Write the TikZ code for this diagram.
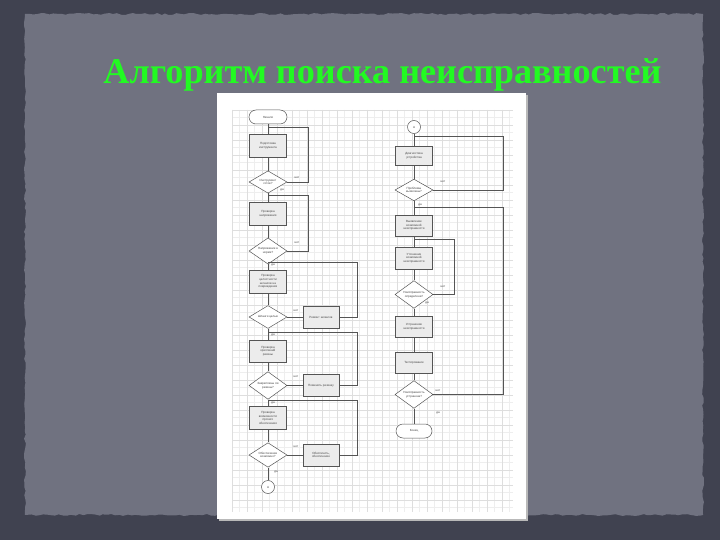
\documentclass[tikz,border=0pt]{standalone}
\usepackage{fontspec}
\setmainfont{Liberation Serif}
\newfontfamily\fcsans{Liberation Sans}
\usetikzlibrary{shapes.geometric,decorations.pathmorphing}
\definecolor{outerbg}{RGB}{64,66,80}
\definecolor{innerbg}{RGB}{112,114,128}
\definecolor{titlegreen}{RGB}{34,250,34}
\definecolor{gridminor}{RGB}{238,238,238}
\definecolor{gridmajor}{RGB}{222,222,222}
\definecolor{fcline}{RGB}{85,85,85}
\definecolor{fcfill}{RGB}{236,236,236}
\definecolor{fctext}{RGB}{70,70,70}
\tikzset{
  fcbase/.style={draw=fcline, line width=0.5pt, text=fctext, align=center, inner sep=0.5pt,
    font=\fcsans\fontsize{3}{3.7}\selectfont},
  stepbox/.style={fcbase, rectangle, fill=fcfill, minimum width=37pt, minimum height=22pt, text width=34pt},
  decision/.style={fcbase, diamond, fill=white, minimum width=38pt, minimum height=20pt, inner sep=0pt},
  terminal/.style={fcbase, rectangle, rounded corners=7pt, fill=white, minimum width=38pt, minimum height=14pt},
  joint/.style={fcbase, circle, fill=white, minimum size=13pt},
  flow/.style={draw=fcline, line width=0.5pt},
  lbl/.style={text=fctext, font=\fcsans\fontsize{3}{3.6}\selectfont, inner sep=0pt}
}
\begin{document}
\begin{tikzpicture}[x=1pt,y=-1pt]
\useasboundingbox (0,0) rectangle (720,540);
% background
\fill[outerbg] (0,0) rectangle (720,540);
\pgfmathsetseed{7}
\fill[innerbg, decorate, decoration={random steps,segment length=4pt,amplitude=1pt}]
  (25,14) -- (703,14) -- (703,515) -- (25,515) -- cycle;
% title
\node[anchor=base, text=titlegreen, font=\bfseries\fontsize{36.2}{40}\selectfont, inner sep=0pt]
  (title) at (382.5,84) {Алгоритм поиска неисправностей};
% panel
\fill[gray!55] (219,95) rectangle (528,521);
\fill[white] (217,93) rectangle (526,519);
\begin{scope}
\clip (232,110) rectangle (513,512);
\foreach \i in {0,...,38} {
  \draw[gridminor, line width=0.4pt] (232+7.5*\i,110) -- (232+7.5*\i,512);
}
\foreach \i in {0,...,54} {
  \draw[gridminor, line width=0.4pt] (232,110+7.5*\i) -- (513,110+7.5*\i);
}
\foreach \i in {0,...,19} {
  \draw[gridmajor, line width=0.5pt] (232+15*\i,110) -- (232+15*\i,512);
}
\foreach \i in {0,...,27} {
  \draw[gridmajor, line width=0.5pt] (232,110+15*\i) -- (513,110+15*\i);
}
\end{scope}
% left column
\node[terminal] (start) at (268,117) {Начало};
\node[stepbox, minimum height=23pt] (b1) at (268,145.5) {Подготовка\\инструмента};
\node[decision] (d1) at (268,182) {Инструмент\\готов?};
\node[stepbox, minimum height=23pt] (b2) at (268,213.5) {Проверка\\напряжения};
\node[decision] (d2) at (268,251) {Напряжение в\\норме?};
\node[stepbox, minimum height=23pt] (b3) at (268,281.5) {Проверка\\целостности\\шлангов на\\повреждения};
\node[decision] (d3) at (268,317) {Шланги целые};
\node[stepbox, minimum width=36pt] (r3) at (321,317) {Ремонт шлангов};
\node[stepbox] (b4) at (268,351) {Проверка\\креплений\\резины};
\node[decision] (d4) at (268,385.5) {Закреплены ли\\резины?};
\node[stepbox, minimum width=36pt] (r4) at (321,385.5) {Поменять резинку};
\node[stepbox, minimum height=23pt] (b5) at (268,418) {Проверка\\возможности\\прочего\\обеспечения};
\node[decision] (d5) at (268,455) {Обеспечение\\возможно?};
\node[stepbox, minimum width=36pt] (r5) at (321,455) {Обеспечить,\\обеспечение};
\node[joint] (c1) at (268,487) {А};
% right column
\node[joint] (c2) at (414,127) {А};
\node[stepbox, minimum height=19pt] (b6) at (414,156) {Диагностика\\устройства};
\node[decision] (d6) at (414,190) {Проблемы\\выявлены?};
\node[stepbox, minimum height=21pt] (b7) at (414,225.5) {Выявление\\возможной\\неисправности};
\node[stepbox] (b8) at (414,258) {Уточнение\\возможной\\неисправности};
\node[decision] (d7) at (414,294.5) {Неисправность\\определена?};
\node[stepbox, minimum height=21pt] (b9) at (414,326.5) {Устранение\\неисправности};
\node[stepbox, minimum height=21pt] (b10) at (414,362.5) {Тестирование};
\node[decision] (d8) at (414,394.5) {Неисправность\\устранена?};
\node[terminal, minimum width=36pt] (end) at (414,431) {Конец};
% joint points
\coordinate (j1) at (268,127);
\coordinate (j2) at (268,195);
\coordinate (j3) at (268,262);
\coordinate (j4) at (268,332);
\coordinate (j5) at (268,400);
\coordinate (k1) at (414,136);
\coordinate (k2) at (414,207);
\coordinate (k3) at (414,239);
% main flow lines
\draw[flow] (start) -- (b1);
\draw[flow] (b1) -- (d1);
\draw[flow] (d1) -- (b2);
\draw[flow] (b2) -- (d2);
\draw[flow] (d2) -- (b3);
\draw[flow] (b3) -- (d3);
\draw[flow] (d3) -- (b4);
\draw[flow] (b4) -- (d4);
\draw[flow] (d4) -- (b5);
\draw[flow] (b5) -- (d5);
\draw[flow] (d5) -- (c1);
\draw[flow] (c2) -- (b6);
\draw[flow] (b6) -- (d6);
\draw[flow] (d6) -- (b7);
\draw[flow] (b7) -- (b8);
\draw[flow] (b8) -- (d7);
\draw[flow] (d7) -- (b9);
\draw[flow] (b9) -- (b10);
\draw[flow] (b10) -- (d8);
\draw[flow] (d8) -- (end);
% loops left
\draw[flow] (d1.east) -- (308,182) -- (308,127) -- (j1);
\draw[flow] (d2.east) -- (308,251) -- (308,195) -- (j2);
\draw[flow] (d3.east) -- (r3.west);
\draw[flow] (r3.east) -- (357,317) -- (357,262) -- (j3);
\draw[flow] (d4.east) -- (r4.west);
\draw[flow] (r4.east) -- (357,385.5) -- (357,332) -- (j4);
\draw[flow] (d5.east) -- (r5.west);
\draw[flow] (r5.east) -- (357,455) -- (357,400) -- (j5);
% loops right
\draw[flow] (d6.east) -- (503,190) -- (503,136) -- (k1);
\draw[flow] (d8.east) -- (503,394.5) -- (503,207) -- (k2);
\draw[flow] (d7.east) -- (454,294.5) -- (454,239) -- (k3);
% labels
\node[lbl] (n1) at (297,178) {нет};
\node[lbl] (y1) at (282,189.5) {да};
\node[lbl] (n2) at (297,243) {нет};
\node[lbl] (y2) at (273,265) {да};
\node[lbl] (n3) at (296,311) {нет};
\node[lbl] (y3) at (273,334.5) {да};
\node[lbl] (n4) at (296,377) {нет};
\node[lbl] (y4) at (273,403) {да};
\node[lbl] (n5) at (296,447) {нет};
\node[lbl] (y5) at (276,472) {да};
\node[lbl] (n6) at (443,182) {нет};
\node[lbl] (y6) at (420,205) {да};
\node[lbl] (n7) at (443,287) {нет};
\node[lbl] (y7) at (427,303) {да};
\node[lbl] (n8) at (438,391) {нет};
\node[lbl] (y8) at (438,413) {да};
\end{tikzpicture}
\end{document}
